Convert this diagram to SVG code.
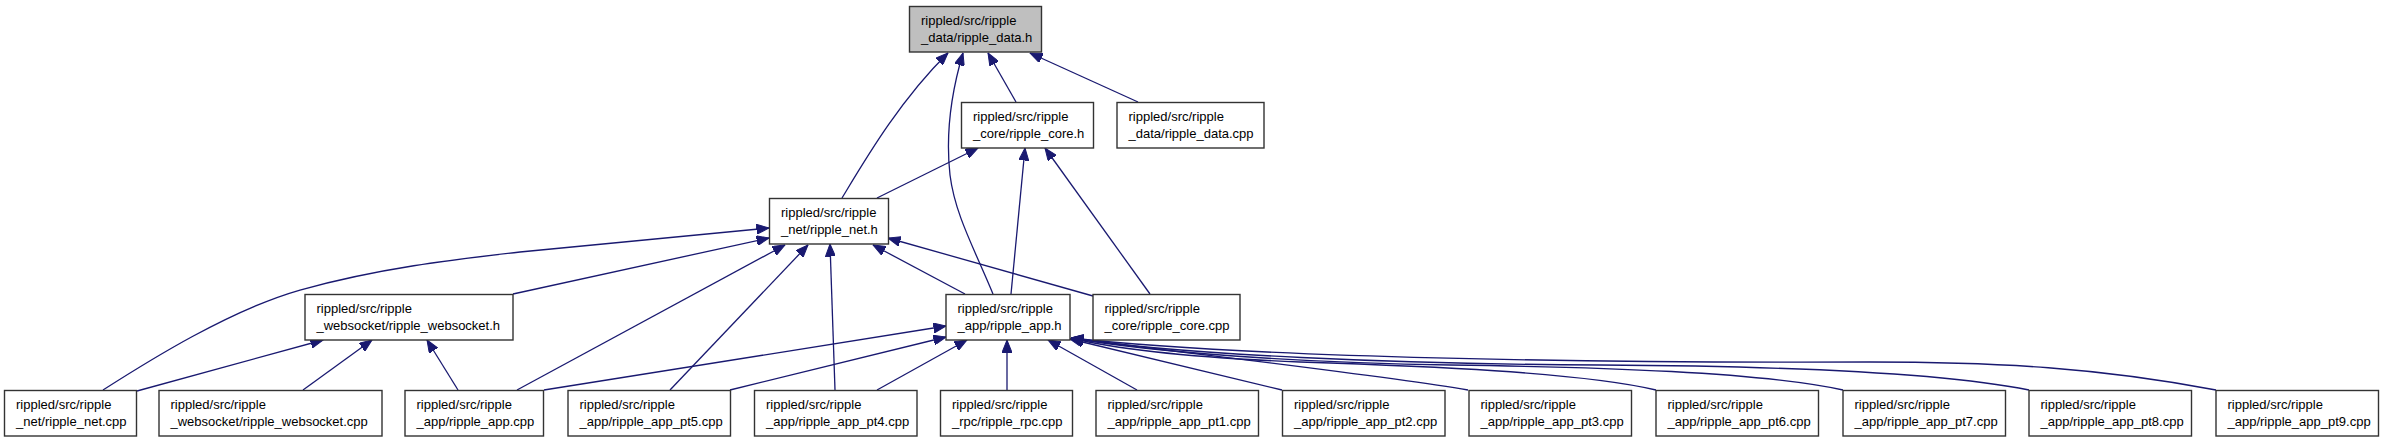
<svg xmlns="http://www.w3.org/2000/svg" width="2384" height="443" viewBox="0 0 2384 443">
<style>
.n rect{fill:#ffffff;stroke:#333333;stroke-width:1.4}
.n.hl rect{fill:#bfbfbf}
.n text{font-family:"Liberation Sans",Arial,sans-serif;font-size:13px;fill:#000000}
.e path{fill:none;stroke:#191970;stroke-width:1.3;marker-end:url(#arr)}
</style>
<defs>
<marker id="arr" markerUnits="userSpaceOnUse" viewBox="0 0 13 10" markerWidth="13" markerHeight="10" refX="12.5" refY="5" orient="auto">
<path d="M0,0 L12.5,5 L0,10 z" fill="#191970" stroke="#191970" stroke-width="1"/>
</marker>
</defs>
<rect width="2384" height="443" fill="#ffffff"/>
<g id="edges" class="e">
<path d="M842,198 C865,160 900,100 948,53"/>
<path d="M993,294 C975,250 955,215 950,175 C945,130 952,90 963,53"/>
<path d="M1016,102 L988,53"/>
<path d="M1138,102 L1030,53"/>
<path d="M877,198 L978,148"/>
<path d="M1011,294 L1025,148"/>
<path d="M1150,294 L1045,148"/>
<path d="M103,390 C150,360 230,310 300,290 C380,268 450,260 520,252 L769,228"/>
<path d="M513,294 L769,238"/>
<path d="M137,391 L323,340"/>
<path d="M303,390 L372,340"/>
<path d="M458,390 L427,340"/>
<path d="M517,390 L785,245"/>
<path d="M670,390 L808,245"/>
<path d="M835,390 L830,244"/>
<path d="M965,294 L873,245"/>
<path d="M1093,296 L888,238"/>
<path d="M544,390 L946,326"/>
<path d="M730,390 L946,337"/>
<path d="M877,390 L967,340"/>
<path d="M1007,390 L1007,340"/>
<path d="M1137,390 L1048,340"/>
<path d="M1282,390 L1070,339"/>
<path d="M1468,390 C1380,375 1200,355 1071,338"/>
<path d="M1656,390 C1580,372 1420,366 1300,362 C1200,358 1120,350 1071,338"/>
<path d="M1843,390 C1760,372 1600,367 1450,365 C1300,363 1150,352 1071,338"/>
<path d="M2029,390 C1940,372 1780,366 1600,365 C1400,364 1180,355 1071,338"/>
<path d="M2216,390 C2100,368 2000,362 1870,362 C1600,363 1250,358 1071,338"/>
</g>
<g id="data_h" class="n hl"><rect x="909.5" y="6.5" width="132" height="45.5"/><text x="921" y="25">rippled/src/ripple</text><text x="921" y="41.5">_data/ripple_data.h</text></g>
<g id="core_h" class="n"><rect x="961.5" y="102.5" width="132" height="45.5"/><text x="973" y="121">rippled/src/ripple</text><text x="973" y="137.5">_core/ripple_core.h</text></g>
<g id="data_cpp" class="n"><rect x="1117" y="102.5" width="147" height="45.5"/><text x="1128.5" y="121">rippled/src/ripple</text><text x="1128.5" y="137.5">_data/ripple_data.cpp</text></g>
<g id="net_h" class="n"><rect x="769.5" y="198.5" width="119" height="45.5"/><text x="781" y="217">rippled/src/ripple</text><text x="781" y="233.5">_net/ripple_net.h</text></g>
<g id="websocket_h" class="n"><rect x="305" y="294.5" width="208" height="45.5"/><text x="316.5" y="313">rippled/src/ripple</text><text x="316.5" y="329.5">_websocket/ripple_websocket.h</text></g>
<g id="app_h" class="n"><rect x="946" y="294.5" width="124" height="45.5"/><text x="957.5" y="313">rippled/src/ripple</text><text x="957.5" y="329.5">_app/ripple_app.h</text></g>
<g id="core_cpp" class="n"><rect x="1093" y="294.5" width="147" height="45.5"/><text x="1104.5" y="313">rippled/src/ripple</text><text x="1104.5" y="329.5">_core/ripple_core.cpp</text></g>
<g id="net_cpp" class="n"><rect x="4.5" y="390.5" width="132" height="45.5"/><text x="16" y="409">rippled/src/ripple</text><text x="16" y="425.5">_net/ripple_net.cpp</text></g>
<g id="websocket_cpp" class="n"><rect x="159" y="390.5" width="223" height="45.5"/><text x="170.5" y="409">rippled/src/ripple</text><text x="170.5" y="425.5">_websocket/ripple_websocket.cpp</text></g>
<g id="app_cpp" class="n"><rect x="405" y="390.5" width="138.5" height="45.5"/><text x="416.5" y="409">rippled/src/ripple</text><text x="416.5" y="425.5">_app/ripple_app.cpp</text></g>
<g id="app_pt5" class="n"><rect x="568" y="390.5" width="162.5" height="45.5"/><text x="579.5" y="409">rippled/src/ripple</text><text x="579.5" y="425.5">_app/ripple_app_pt5.cpp</text></g>
<g id="app_pt4" class="n"><rect x="754.5" y="390.5" width="162.5" height="45.5"/><text x="766" y="409">rippled/src/ripple</text><text x="766" y="425.5">_app/ripple_app_pt4.cpp</text></g>
<g id="rpc_cpp" class="n"><rect x="940.5" y="390.5" width="132" height="45.5"/><text x="952" y="409">rippled/src/ripple</text><text x="952" y="425.5">_rpc/ripple_rpc.cpp</text></g>
<g id="app_pt1" class="n"><rect x="1096" y="390.5" width="162.5" height="45.5"/><text x="1107.5" y="409">rippled/src/ripple</text><text x="1107.5" y="425.5">_app/ripple_app_pt1.cpp</text></g>
<g id="app_pt2" class="n"><rect x="1282.5" y="390.5" width="162.5" height="45.5"/><text x="1294" y="409">rippled/src/ripple</text><text x="1294" y="425.5">_app/ripple_app_pt2.cpp</text></g>
<g id="app_pt3" class="n"><rect x="1469" y="390.5" width="162.5" height="45.5"/><text x="1480.5" y="409">rippled/src/ripple</text><text x="1480.5" y="425.5">_app/ripple_app_pt3.cpp</text></g>
<g id="app_pt6" class="n"><rect x="1656" y="390.5" width="162.5" height="45.5"/><text x="1667.5" y="409">rippled/src/ripple</text><text x="1667.5" y="425.5">_app/ripple_app_pt6.cpp</text></g>
<g id="app_pt7" class="n"><rect x="1843" y="390.5" width="162.5" height="45.5"/><text x="1854.5" y="409">rippled/src/ripple</text><text x="1854.5" y="425.5">_app/ripple_app_pt7.cpp</text></g>
<g id="app_pt8" class="n"><rect x="2029" y="390.5" width="162.5" height="45.5"/><text x="2040.5" y="409">rippled/src/ripple</text><text x="2040.5" y="425.5">_app/ripple_app_pt8.cpp</text></g>
<g id="app_pt9" class="n"><rect x="2216" y="390.5" width="162.5" height="45.5"/><text x="2227.5" y="409">rippled/src/ripple</text><text x="2227.5" y="425.5">_app/ripple_app_pt9.cpp</text></g>
</svg>
